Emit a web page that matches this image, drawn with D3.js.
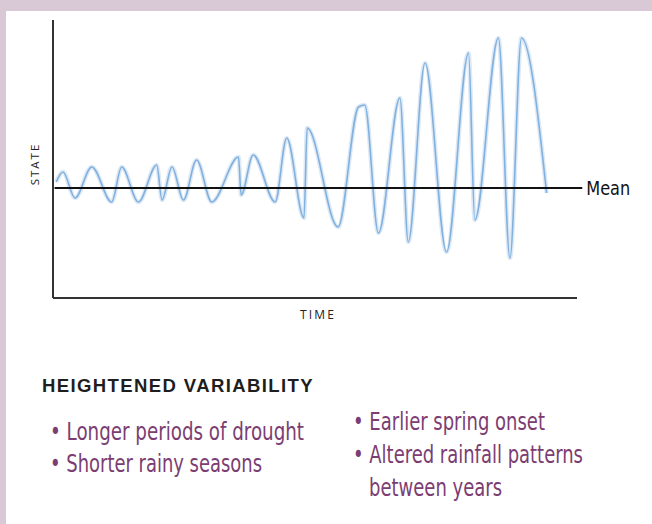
<!DOCTYPE html>
<html>
<head>
<meta charset="utf-8">
<script src="https://cdn.jsdelivr.net/npm/d3@7"></script>
<style>
  html, body { margin: 0; padding: 0; background: #fff; }
  svg { display: block; }
</style>
</head>
<body>
<div id="chart"></div>
<script>
// data (time 0-100, state relative to mean = 0)
const timeVals  = [0.6, 1.9, 4.2, 7.4, 11.2, 13.1, 16.3, 19.8, 20.8, 22.7, 24.9, 27.4, 30.3, 35.4, 35.9, 38.2, 42.4, 44.6, 47.9, 48.5, 54.4, 58.3, 59.5, 62.1, 66.2, 67.8, 71.0, 75.1, 79.3, 80.5, 85.0, 87.2, 89.4, 94.2];
const stateVals = [0.6, 1.6, -1.0, 2.1, -1.4, 2.1, -1.4, 2.3, -1.2, 2.1, -1.2, 2.8, -1.4, 3.1, -0.7, 3.3, -1.4, 5.0, -3.0, 6.0, -3.9, 8.1, 8.3, -4.5, 9.0, -5.4, 12.5, -6.4, 13.5, -3.2, 15.0, -7.0, 15.0, -0.5];
const meanVal = 0;

const heading = "HEIGHTENED VARIABILITY";
const leftBullets = ["• Longer periods of drought", "• Shorter rainy seasons"];
const rightBullets = ["• Earlier spring onset", "• Altered rainfall patterns", "between years"];

const width = 652;
const height = 524;
const condensed = "'Liberation Sans Narrow', 'DejaVu Sans Condensed', 'Open Sans', sans-serif";

const svg = d3.select("#chart")
  .append("svg")
  .attr("width", width)
  .attr("height", height);

// lavender frame
svg.append("rect").attr("x", 0).attr("y", 0).attr("width", width).attr("height", height).attr("fill", "#d9c9d6");
svg.append("rect").attr("x", 6).attr("y", 11).attr("width", width - 6).attr("height", height - 11).attr("fill", "#fff");

const x = d3.scaleLinear().domain([0, 100]).range([53, 577]);
const y = d3.scaleLinear().domain([-11, 16.8]).range([298, 20]);

const pts = timeVals.map((t, i) => [t, stateVals[i]]);

const line = d3.line()
  .x(d => x(d[0]))
  .y(d => y(d[1]))
  .curve(d3.curveMonotoneX);

// soft halo then the line
svg.append("path")
  .attr("d", line(pts))
  .attr("fill", "none")
  .attr("stroke", "#dde9f6")
  .attr("stroke-width", 4.5)
  .attr("stroke-linejoin", "round");
svg.append("path")
  .attr("d", line(pts))
  .attr("fill", "none")
  .attr("stroke", "#82b1de")
  .attr("stroke-width", 1.6)
  .attr("stroke-linejoin", "round");

// axes
svg.append("line")
  .attr("x1", x(0)).attr("x2", x(0))
  .attr("y1", y.range()[1]).attr("y2", y.range()[0])
  .attr("stroke", "#333").attr("stroke-width", 2);
svg.append("line")
  .attr("x1", x(0)).attr("x2", x(100))
  .attr("y1", y.range()[0]).attr("y2", y.range()[0])
  .attr("stroke", "#333").attr("stroke-width", 2);

// mean line
svg.append("line")
  .attr("x1", x(0.3)).attr("x2", x(101))
  .attr("y1", y(meanVal)).attr("y2", y(meanVal))
  .attr("stroke", "#111").attr("stroke-width", 2);
svg.append("text")
  .attr("x", x(101) + 4).attr("y", y(meanVal))
  .attr("dy", "0.35em")
  .attr("font-family", condensed)
  .attr("font-size", 19)
  .attr("textLength", 44)
  .attr("lengthAdjust", "spacingAndGlyphs")
  .attr("fill", "#111")
  .text("Mean");

// axis labels
svg.append("text")
  .attr("transform", "translate(39,164) rotate(-90)")
  .attr("text-anchor", "middle")
  .attr("font-family", "'Open Sans', sans-serif")
  .attr("font-size", 11.5)
  .attr("letter-spacing", 2)
  .attr("fill", "#222")
  .text("STATE");
svg.append("text")
  .attr("x", 318).attr("y", 319)
  .attr("text-anchor", "middle")
  .attr("font-family", "'Open Sans', sans-serif")
  .attr("font-size", 12)
  .attr("letter-spacing", 2.2)
  .attr("fill", "#222")
  .text("TIME");

// text block
svg.append("text")
  .attr("x", 42).attr("y", 392)
  .attr("font-family", "'Liberation Sans', Arial, sans-serif")
  .attr("font-weight", "bold")
  .attr("font-size", 17.5)
  .attr("letter-spacing", 1.3)
  .attr("textLength", 272)
  .attr("lengthAdjust", "spacingAndGlyphs")
  .attr("fill", "#1e1e1e")
  .text(heading);

const leftLen = [254, 212];
const rightLen = [192, 230, 133];

svg.selectAll("text.left")
  .data(leftBullets)
  .join("text")
  .attr("class", "left")
  .attr("x", 50)
  .attr("y", (d, i) => 440 + i * 32)
  .attr("font-family", condensed)
  .attr("font-size", 25)
  .attr("textLength", (d, i) => leftLen[i])
  .attr("lengthAdjust", "spacingAndGlyphs")
  .attr("fill", "#7b3d72")
  .text(d => d);

svg.selectAll("text.right")
  .data(rightBullets)
  .join("text")
  .attr("class", "right")
  .attr("x", (d, i) => i === 2 ? 369 : 353)
  .attr("y", (d, i) => 430 + i * 33)
  .attr("font-family", condensed)
  .attr("font-size", 25)
  .attr("textLength", (d, i) => rightLen[i])
  .attr("lengthAdjust", "spacingAndGlyphs")
  .attr("fill", "#7b3d72")
  .text(d => d);
</script>
</body>
</html>
